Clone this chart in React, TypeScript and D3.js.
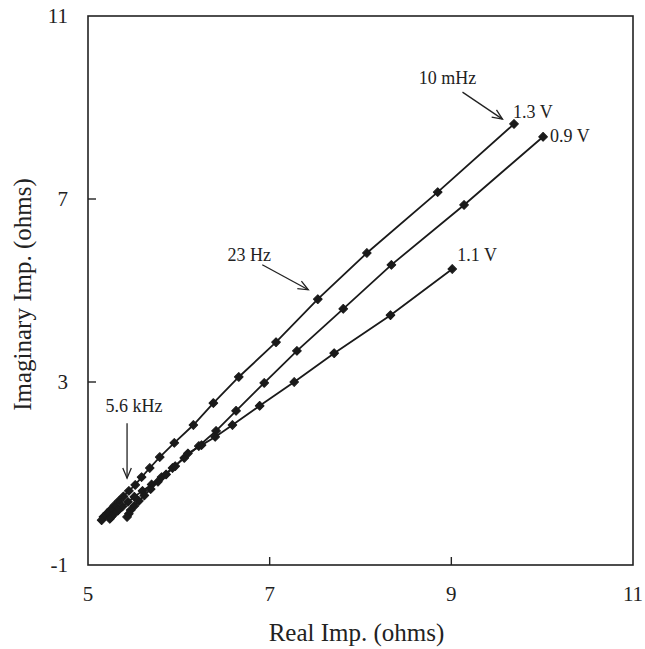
import React, { useRef, useEffect } from "react";
import * as d3 from "d3";

// Nyquist data: [real, imaginary] in ohms
const series13V: [number, number][] = [
  [9.69, 8.64], [8.85, 7.15], [8.07, 5.82], [7.53, 4.81], [7.07, 3.87], [6.66, 3.11],
  [6.38, 2.54], [6.16, 2.06], [5.95, 1.67], [5.79, 1.36], [5.68, 1.12], [5.59, 0.92],
  [5.52, 0.75], [5.45, 0.62], [5.39, 0.5], [5.34, 0.4], [5.29, 0.3], [5.25, 0.21],
  [5.21, 0.13], [5.17, 0.05], [5.15, -0.02],
];
const series09V: [number, number][] = [
  [10.01, 8.36], [9.14, 6.87], [8.34, 5.56], [7.81, 4.6], [7.3, 3.68], [6.94, 2.98],
  [6.63, 2.37], [6.41, 1.93], [6.22, 1.6], [6.06, 1.34], [5.93, 1.12], [5.81, 0.92],
  [5.7, 0.76], [5.6, 0.62], [5.51, 0.49], [5.44, 0.38], [5.38, 0.28], [5.33, 0.19],
  [5.29, 0.12], [5.26, 0.06], [5.24, 0.01],
];
const series11V: [number, number][] = [
  [9.01, 5.47], [8.33, 4.46], [7.71, 3.63], [7.27, 3.0], [6.89, 2.48], [6.59, 2.06],
  [6.4, 1.8], [6.25, 1.62], [6.1, 1.44], [5.96, 1.16], [5.86, 0.98], [5.77, 0.82],
  [5.69, 0.66], [5.62, 0.52], [5.56, 0.4], [5.51, 0.29], [5.47, 0.2], [5.45, 0.12],
  [5.43, 0.05],
];
const xTicks = [5, 7, 9, 11];
const yTicks = [-1, 3, 7, 11];

const W = 645;
const H = 649;
const margin = { top: 16, right: 12, bottom: 84, left: 88 };
const FONT = "'Liberation Serif', 'Times New Roman', serif";

export default function App() {
  const svgRef = useRef<SVGSVGElement>(null);

  useEffect(() => {
    const svg = d3.select(svgRef.current);
    svg.selectAll("*").remove();

    const x = d3.scaleLinear().domain([5, 11]).range([margin.left, W - margin.right]);
    const y = d3.scaleLinear().domain([-1, 11]).range([H - margin.bottom, margin.top]);

    svg.append("rect").attr("width", W).attr("height", H).attr("fill", "white");

    const g = svg.append("g");

    // frame
    g.append("rect")
      .attr("x", x(5))
      .attr("y", y(11))
      .attr("width", x(11) - x(5))
      .attr("height", y(-1) - y(11))
      .attr("fill", "none")
      .attr("stroke", "#222")
      .attr("stroke-width", 1.6);

    // inward ticks
    g.selectAll(".xt")
      .data(xTicks.slice(1, -1))
      .join("line")
      .attr("x1", (d) => x(d))
      .attr("x2", (d) => x(d))
      .attr("y1", y(-1))
      .attr("y2", y(-1) - 8)
      .attr("stroke", "#222")
      .attr("stroke-width", 1.4);
    g.selectAll(".yt")
      .data(yTicks.slice(1, -1))
      .join("line")
      .attr("x1", x(5))
      .attr("x2", x(5) + 8)
      .attr("y1", (d) => y(d))
      .attr("y2", (d) => y(d))
      .attr("stroke", "#222")
      .attr("stroke-width", 1.4);

    // tick labels
    g.selectAll(".xl")
      .data(xTicks)
      .join("text")
      .attr("x", (d) => x(d))
      .attr("y", y(-1) + 36)
      .attr("text-anchor", "middle")
      .attr("font-family", FONT)
      .attr("font-size", 21)
      .attr("fill", "#222")
      .text((d) => d);
    g.selectAll(".yl")
      .data(yTicks)
      .join("text")
      .attr("x", x(5) - 20)
      .attr("y", (d) => y(d))
      .attr("dy", "0.34em")
      .attr("text-anchor", "end")
      .attr("font-family", FONT)
      .attr("font-size", 21)
      .attr("fill", "#222")
      .text((d) => d);

    // axis titles
    g.append("text")
      .attr("x", (x(5) + x(11)) / 2 - 4)
      .attr("y", H - 8)
      .attr("text-anchor", "middle")
      .attr("font-family", FONT)
      .attr("font-size", 25)
      .attr("fill", "#222")
      .text("Real Imp. (ohms)");
    g.append("text")
      .attr("transform", `translate(31,${(y(-1) + y(11)) / 2 + 4}) rotate(-90)`)
      .attr("text-anchor", "middle")
      .attr("font-family", FONT)
      .attr("font-size", 25)
      .attr("fill", "#222")
      .text("Imaginary Imp. (ohms)");

    // series
    const line = d3.line<[number, number]>()
      .x((d) => x(d[0]))
      .y((d) => y(d[1]));
    const marker = d3.symbol().type(d3.symbolSquare).size(38);

    [series13V, series09V, series11V].forEach((s) => {
      g.append("path")
        .datum(s)
        .attr("d", line)
        .attr("fill", "none")
        .attr("stroke", "#1a1a1a")
        .attr("stroke-width", 1.8);
      g.append("g")
        .selectAll("path")
        .data(s)
        .join("path")
        .attr("d", marker)
        .attr("transform", (d) => `translate(${x(d[0])},${y(d[1])}) rotate(45)`)
        .attr("fill", "#1a1a1a")
        .attr("stroke", "#1a1a1a")
        .attr("stroke-width", 1)
        .attr("stroke-linejoin", "round");
    });

    // series labels
    const labelStyle = (t: d3.Selection<SVGTextElement, unknown, null, undefined>) =>
      t.attr("font-family", FONT).attr("font-size", 18).attr("fill", "#222");
    const e13 = series13V[0];
    const e09 = series09V[0];
    const e11 = series11V[0];
    labelStyle(g.append("text").attr("x", x(e13[0]) - 1).attr("y", y(e13[1]) - 6).text("1.3 V"));
    labelStyle(g.append("text").attr("x", x(e09[0]) + 7).attr("y", y(e09[1]) + 5).text("0.9 V"));
    labelStyle(g.append("text").attr("x", x(e11[0]) + 5).attr("y", y(e11[1]) - 8).text("1.1 V"));

    // frequency annotations with arrows
    const arrow = (x1: number, y1: number, x2: number, y2: number) => {
      g.append("line")
        .attr("x1", x1).attr("y1", y1).attr("x2", x2).attr("y2", y2)
        .attr("stroke", "#222").attr("stroke-width", 1.3);
      const a = Math.atan2(y2 - y1, x2 - x1);
      const len = 11;
      const spread = 0.4;
      g.append("path")
        .attr("d", `M${x2 - len * Math.cos(a - spread)},${y2 - len * Math.sin(a - spread)}L${x2},${y2}L${x2 - len * Math.cos(a + spread)},${y2 - len * Math.sin(a + spread)}`)
        .attr("fill", "none")
        .attr("stroke", "#222")
        .attr("stroke-width", 1.3);
    };

    // 10 mHz
    labelStyle(g.append("text").attr("x", x(9.64) - 62).attr("y", y(8.68) - 38).attr("text-anchor", "middle").text("10 mHz"));
    arrow(x(9.64) - 47, y(8.68) - 30, x(9.64) - 7, y(8.68) - 3);
    // 23 Hz
    labelStyle(g.append("text").attr("x", x(7.48) - 64).attr("y", y(4.95) - 32).attr("text-anchor", "middle").text("23 Hz"));
    arrow(x(7.48) - 51, y(4.95) - 28, x(7.48) - 5, y(4.95) - 3);
    // 5.6 kHz
    labelStyle(g.append("text").attr("x", x(5.43) + 7).attr("y", y(0.81) - 70).attr("text-anchor", "middle").text("5.6 kHz"));
    arrow(x(5.43), y(0.81) - 59, x(5.43), y(0.81) - 4);
  }, []);

  return (
    <svg
      ref={svgRef}
      width={W}
      height={H}
      style={{ position: "absolute", left: 0, top: 0 }}
    />
  );
}
